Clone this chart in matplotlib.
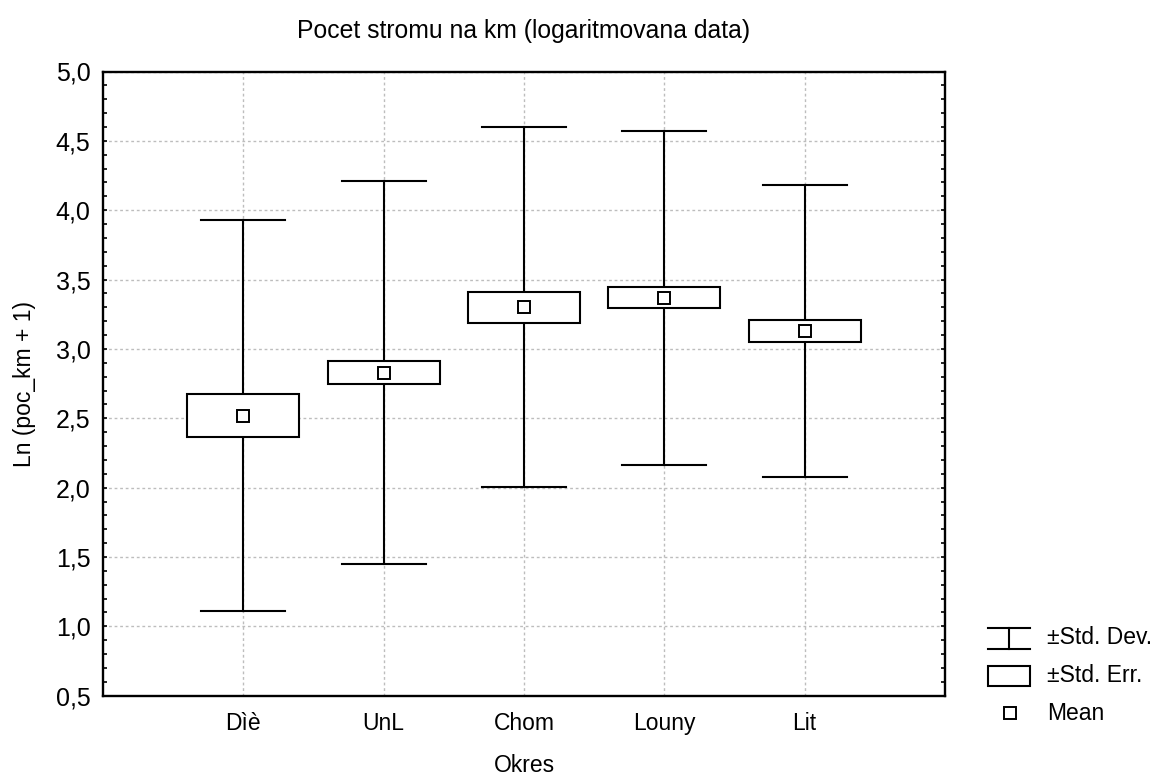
import matplotlib
matplotlib.use("Agg")
import matplotlib.pyplot as plt
from matplotlib.patches import Rectangle
from matplotlib.lines import Line2D
from matplotlib.ticker import MultipleLocator, FuncFormatter

plt.rcParams["font.family"] = ["Liberation Sans", "DejaVu Sans"]

# Summary statistics per district
okres = ["Dìè", "UnL", "Chom", "Louny", "Lit"]
means = [2.52, 2.83, 3.30, 3.37, 3.13]
std_dev = [1.412, 1.380, 1.299, 1.204, 1.055]
std_err = [0.155, 0.080, 0.113, 0.073, 0.079]

W, H = 1160, 776
fig = plt.figure(figsize=(W / 100, H / 100), dpi=100)
ax_left, ax_right, ax_top, ax_bottom = 103, 945, 71.5, 695.7
ax = fig.add_axes([ax_left / W, 1 - ax_bottom / H,
                   (ax_right - ax_left) / W, (ax_bottom - ax_top) / H])


def fx(x):
    return x / W


def fy(y):
    return 1 - y / H


box_w = 0.8
cap_w = 0.6
lw = 1.5

for i, (m, sd, se) in enumerate(zip(means, std_dev, std_err)):
    # whisker for ±SD
    ax.plot([i, i], [m - sd, m - se], color="black", lw=lw, zorder=3)
    ax.plot([i, i], [m + se, m + sd], color="black", lw=lw, zorder=3)
    ax.plot([i - cap_w / 2, i + cap_w / 2], [m + sd, m + sd], color="black", lw=lw, zorder=3)
    ax.plot([i - cap_w / 2, i + cap_w / 2], [m - sd, m - sd], color="black", lw=lw, zorder=3)
    # box for ±SE
    ax.add_patch(Rectangle((i - box_w / 2, m - se), box_w, 2 * se,
                           facecolor="white", edgecolor="black", lw=lw, zorder=4))
    # mean marker
    ax.plot([i], [m], marker="s", ms=9, mfc="white", mec="black", mew=1.4, zorder=5)

ax.set_xlim(-1, 5)
ax.set_ylim(0.5, 5.0)
ax.set_xticks(range(len(okres)))
ax.set_xticklabels(okres)
ax.yaxis.set_major_locator(MultipleLocator(0.5))
ax.yaxis.set_minor_locator(MultipleLocator(0.1))
ax.yaxis.set_major_formatter(FuncFormatter(lambda v, p: f"{v:.1f}".replace(".", ",")))

ax.tick_params(axis="x", length=0, pad=12, labelsize=16.5)
ax.tick_params(axis="y", which="both", direction="in", left=True, right=True,
               length=3, width=1.2, labelsize=18, pad=9)

ax.grid(True, which="major", color="#bdbdbd", linestyle=(0, (2, 2)), lw=1)
ax.set_axisbelow(True)
for s in ax.spines.values():
    s.set_linewidth(1.7)

cx = (ax_left + ax_right) / 2
fig.text(fx(cx), fy(31), "Pocet stromu na km (logaritmovana data)", fontsize=17.8,
         ha="center", va="center")
fig.text(fx(cx), fy(766), "Okres", fontsize=16.5, ha="center", va="center")
fig.text(fx(25), fy((ax_top + ax_bottom) / 2), "Ln (poc_km + 1)", fontsize=16.5,
         ha="center", va="center", rotation=90)

# Legend drawn in figure pixel coordinates
tf = fig.transFigure
fig.add_artist(Line2D([fx(988), fx(1030)], [fy(628), fy(628)], color="black", lw=lw, transform=tf))
fig.add_artist(Line2D([fx(988), fx(1030)], [fy(649), fy(649)], color="black", lw=lw, transform=tf))
fig.add_artist(Line2D([fx(1009), fx(1009)], [fy(628), fy(649)], color="black", lw=lw, transform=tf))
fig.add_artist(Rectangle((fx(988), fy(686)), fx(42), 20 / H, facecolor="white",
                         edgecolor="black", lw=lw, transform=tf))
fig.add_artist(Line2D([fx(1009.5)], [fy(713)], marker="s", ms=8, mfc="white", mec="black",
                      mew=1.4, transform=tf))
for ytxt, label in [(638, "±Std. Dev."), (676, "±Std. Err."), (713, "Mean")]:
    fig.text(fx(1047), fy(ytxt), label, fontsize=16.5, va="center", ha="left")

fig.savefig("out.png", dpi=100)
